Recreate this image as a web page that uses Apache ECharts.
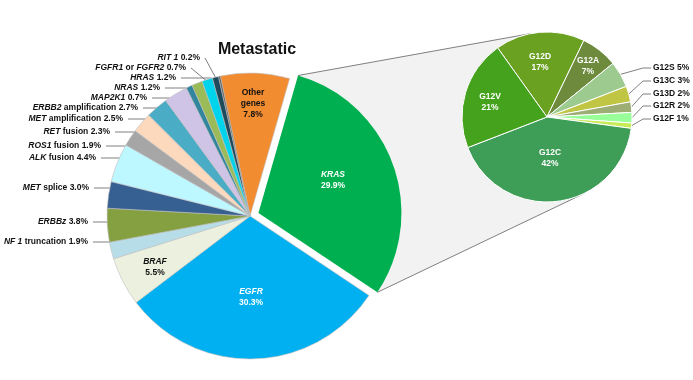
<!DOCTYPE html>
<html>
<head>
<meta charset="utf-8">
<script src="https://cdn.jsdelivr.net/npm/echarts@6/dist/echarts.min.js"></script>
<style>
html,body{margin:0;padding:0;background:#fff;}
#chart{width:693px;height:380px;}
</style>
</head>
<body>
<div id="chart"></div>
<script>
// ---------- data ----------
const mainNames = ['Other genes','KRAS','EGFR','BRAF','NF 1 truncation','ERBBz','MET splice','ALK fusion','ROS1 fusion','RET fusion','MET amplification','ERBB2 amplification','MAP2K1','NRAS','HRAS','FGFR1 or FGFR2','RIT 1'];
const mainValues = [7.8,29.9,30.3,5.5,1.9,3.8,3.0,4.4,1.9,2.3,2.5,2.7,0.7,1.2,1.2,0.7,0.2];
const krasNames = ['G12D','G12A','G12S','G13C','G13D','G12R','G12F','G12C','G12V'];
const krasValues = [17,7,5,3,2,2,1,42,21];
const titleText = 'Metastatic';
const explodedName = 'KRAS';

// ---------- styling / layout ----------
const mainColors = ['#F28C30','#00B050','#00B0F0','#EBF1DE','#B7DEE8','#85A041','#376092','#BDF7FF','#A6A6A6','#FCD9BD','#4BACC6','#CFC4E6','#31859C','#9BBB59','#00D4EC','#1F4A5C','#5A5A5A'];
const krasColors = ['#6AA121','#6E8B3D','#9DCB8F','#C0C644','#9CAE74','#99FF99','#C5EB57','#3E9E58','#45A21C'];
const MAIN_C = [250,216], MAIN_R = 143, MAIN_START = 102, EXPLODE = 9;
const SUB_C = [547,117], SUB_R = 85, SUB_START = 125.5;
const insideMain = {0:[253,104,'#111'],1:[333,180,'#fff'],2:[251,297,'#fff'],3:[155,267,'#111']};
const outsideMainPos = {4:[88,242],5:[88,222],6:[89,188],7:[96,158],8:[101,146],9:[110,132],10:[123,119],11:[138,108],12:[147,98],13:[160,88],14:[176,78],15:[186,68],16:[200,58]};
const insideSub = {0:[540,62],1:[588,66],7:[550,158],8:[490,102]};
const outsideSubPos = {2:[653,68],3:[653,81],4:[653,94],5:[653,106],6:[653,119]};
const plainWords = ['truncation','splice','fusion','amplification','or','Other','genes'];
const FONT = '"Liberation Sans", Arial, sans-serif';

function richName(name){
  return name.split(' ').map(w => plainWords.indexOf(w) >= 0 ? '{n|' + w + '}' : '{i|' + w + '}').join('{n| }');
}
function richW(c){
  return {
    i:{fontStyle:'italic',fontWeight:'bold',fontSize:8.5,fontFamily:FONT,color:c,lineHeight:11},
    n:{fontWeight:'bold',fontSize:8.5,fontFamily:FONT,color:c,lineHeight:11}
  };
}
const rich = richW('#111');

const total = mainValues.reduce((a,b)=>a+b,0);
function cumBefore(vals, idx){ let s=0; for(let k=0;k<idx;k++) s+=vals[k]; return s; }
function midAngle(vals, idx, start){
  const t = vals.reduce((a,b)=>a+b,0);
  return start - 360*(cumBefore(vals,idx) + vals[idx]/2)/t;
}
function pt(c, r, deg){ const a = deg*Math.PI/180; return [c[0]+r*Math.cos(a), c[1]-r*Math.sin(a)]; }

// explode geometry for KRAS, from the data
const kIdx = mainNames.indexOf(explodedName);
const kStart = MAIN_START - 360*cumBefore(mainValues,kIdx)/total;
const kEnd = kStart - 360*mainValues[kIdx]/total;
const kMid = (kStart+kEnd)/2;
const apex = pt(MAIN_C, EXPLODE, kMid);
const kA = pt(apex, MAIN_R, kStart);
const kB = pt(apex, MAIN_R, kEnd);

function mainLabel(i){
  const n = mainNames[i];
  if (insideMain[i] !== undefined) {
    const col = insideMain[i][2];
    const txt = n === 'Other genes' ? '{n|Other}\n{n|genes}\n{n|' + mainValues[i].toFixed(1) + '%}'
                                    : richName(n) + '\n{n|' + mainValues[i].toFixed(1) + '%}';
    return {show:true, formatter: txt, rich: richW(col), align:'center'};
  }
  return {show:true, formatter: richName(n) + '{n| ' + mainValues[i].toFixed(1) + '%}', rich: rich};
}

const mainData = mainNames.map((n,i)=>{
  if (i === kIdx) {
    return {name:n, value:mainValues[i], itemStyle:{color:'rgba(0,0,0,0)', borderWidth:0}, label:{show:false}, labelLine:{show:false}};
  }
  return {name:n, value:mainValues[i], itemStyle:{color:mainColors[i]}, label:mainLabel(i),
          labelLine:{show: insideMain[i] === undefined}};
});
const explodeData = mainNames.map((n,i)=>{
  if (i !== kIdx) {
    return {name:n, value:mainValues[i], itemStyle:{color:'rgba(0,0,0,0)', borderWidth:0}, label:{show:false}, labelLine:{show:false}};
  }
  return {name:n, value:mainValues[i], itemStyle:{color:mainColors[i], borderWidth:0}, label:mainLabel(i), labelLine:{show:false}};
});

const subData = krasNames.map((n,i)=>{
  const d = {name:n, value:krasValues[i], itemStyle:{color:krasColors[i]}};
  if (insideSub[i] !== undefined) {
    d.label = {show:true, formatter: '{n|' + n + '}\n{n|' + krasValues[i] + '%}', rich: richW('#fff'), align:'center'};
    d.labelLine = {show:false};
  } else {
    d.label = {show:true, formatter: '{n|' + n + ' ' + krasValues[i] + '%}', rich: rich};
    d.labelLine = {show:true};
  }
  return d;
});

function tangent(P, upper){
  const dx = P[0]-SUB_C[0], dy = P[1]-SUB_C[1];
  const d = Math.hypot(dx,dy);
  const phi = Math.atan2(dy,dx);
  const al = Math.acos(SUB_R/d);
  const c1 = [SUB_C[0]+SUB_R*Math.cos(phi+al), SUB_C[1]+SUB_R*Math.sin(phi+al)];
  const c2 = [SUB_C[0]+SUB_R*Math.cos(phi-al), SUB_C[1]+SUB_R*Math.sin(phi-al)];
  if (upper) return c1[1] < c2[1] ? c1 : c2;
  return c1[1] > c2[1] ? c1 : c2;
}
const tTop = tangent(kA, true);
const tBot = tangent(kB, false);

function mainLayout(p){
  const i = p.dataIndex;
  if (insideMain[i] !== undefined) {
    return {x:insideMain[i][0], y:insideMain[i][1], align:'center', verticalAlign:'middle'};
  }
  const pos = outsideMainPos[i];
  if (!pos) return {};
  const inner = pt(MAIN_C, MAIN_R*0.9, midAngle(mainValues, i, MAIN_START));
  const p0 = [pos[0]+5, pos[1]];
  const dy = pos[1]-MAIN_C[1];
  let bx = p0[0];
  if (Math.abs(dy) < MAIN_R) bx = Math.max(p0[0], MAIN_C[0]-Math.sqrt(MAIN_R*MAIN_R-dy*dy));
  bx = Math.min(bx, inner[0]);
  return {x:pos[0], y:pos[1], align:'right', verticalAlign:'middle',
    labelLinePoints:[p0,[bx,pos[1]],inner]};
}

const chart = echarts.init(document.getElementById('chart'), null, {renderer:'canvas'});
chart.setOption({
  animation:false,
  backgroundColor:'#fff',
  title:{text:titleText, left:252, top:37, textAlign:'center',
    textStyle:{fontFamily:FONT, fontWeight:'bold', fontSize:16, color:'#111'}},
  graphic:[
    {type:'polygon', z:0, silent:true, shape:{points:[kA,tTop,SUB_C,tBot,kB,apex]}, style:{fill:'#F2F2F2'}},
    {type:'line', z:1, silent:true, shape:{x1:kA[0],y1:kA[1],x2:tTop[0],y2:tTop[1]}, style:{stroke:'#808080',lineWidth:1}},
    {type:'line', z:1, silent:true, shape:{x1:kB[0],y1:kB[1],x2:tBot[0],y2:tBot[1]}, style:{stroke:'#808080',lineWidth:1}}
  ],
  series:[
    {
      type:'pie', z:5, center:MAIN_C, radius:MAIN_R, startAngle:MAIN_START, clockwise:true,
      selectedMode:false, avoidLabelOverlap:false, silent:true,
      itemStyle:{borderColor:'#BFBFBF', borderWidth:0.6},
      emphasis:{disabled:true},
      label:{position:'outside'},
      labelLine:{lineStyle:{color:'#808080', width:1}},
      labelLayout:mainLayout,
      data:mainData
    },
    {
      type:'pie', z:5, center:apex, radius:MAIN_R, startAngle:MAIN_START, clockwise:true,
      selectedMode:false, avoidLabelOverlap:false, silent:true,
      emphasis:{disabled:true},
      label:{position:'outside'},
      labelLayout:mainLayout,
      data:explodeData
    },
    {
      type:'pie', z:5, center:SUB_C, radius:SUB_R, startAngle:SUB_START, clockwise:true,
      avoidLabelOverlap:false, selectedMode:false, silent:true,
      itemStyle:{borderColor:'#fff', borderWidth:1},
      emphasis:{disabled:true},
      label:{position:'outside'},
      labelLine:{lineStyle:{color:'#808080', width:1}},
      labelLayout:function(p){
        const i = p.dataIndex;
        if (insideSub[i] !== undefined) {
          return {x:insideSub[i][0], y:insideSub[i][1], align:'center', verticalAlign:'middle'};
        }
        const pos = outsideSubPos[i];
        const rim = pt(SUB_C, SUB_R, midAngle(krasValues, i, SUB_START));
        return {x:pos[0], y:pos[1], align:'left', verticalAlign:'middle',
          labelLinePoints:[rim,[pos[0]-10,pos[1]],[pos[0]-2,pos[1]]]};
      },
      data:subData
    }
  ]
});
</script>
</body>
</html>
